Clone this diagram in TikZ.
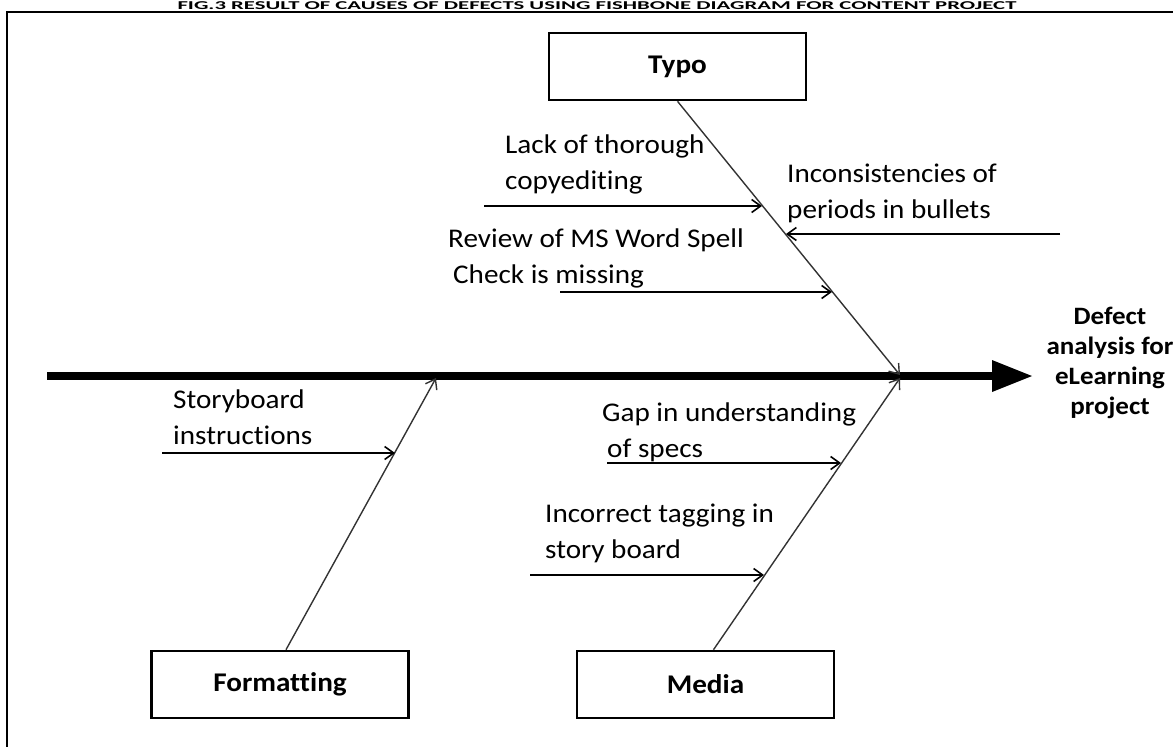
\documentclass[tikz,border=0pt]{standalone}
\usepackage{fontspec}
\setmainfont{Carlito}[FakeStretch=1.08,Ligatures=NoCommon]
\usetikzlibrary{arrows.meta,calc}
\begin{document}
\begin{tikzpicture}[x=1pt,y=-1pt,
  box/.style={draw=black, line width=2.6pt, minimum width=257pt, minimum height=67pt, inner sep=0pt, font=\fontsize{27}{32}\selectfont\bfseries},
  lab/.style={align=left, inner sep=0pt, font=\fontsize{27}{36}\selectfont, anchor=base west},
  bone/.style={draw=black!80, line width=1.4pt, -{Straight Barb[length=9pt,width=13pt]}},
  cause/.style={draw=black, line width=1.6pt, -{Straight Barb[length=9pt,width=13pt]}}]
\useasboundingbox (0,0) rectangle (1173,747);
% title
\node[font=\fontsize{12}{14}\selectfont\bfseries, anchor=base, inner sep=0pt] (title) at (597,9.5) {\scalebox{1.75}[1]{FIG.3 RESULT OF CAUSES OF DEFECTS USING FISHBONE DIAGRAM FOR CONTENT PROJECT}};
% frame
\draw[line width=2pt] (6.5,760) -- (6.5,12) -- (1180,12);
% category boxes
\node[box] (typo) at (677.5,66.5) {Typo};
\node[box] (fmt) at (280,684.5) {Formatting};
\node[box] (media) at (705.5,684.5) {Media};
% spine
\coordinate (s0) at (47,376);
\coordinate (s1) at (995,376);
\draw[line width=8pt] (s0) -- (s1);
\fill ($(s1)+(-3,-16)$) -- ($(s1)+(37,0)$) -- ($(s1)+(-3,16)$) -- cycle;
% effect
\node[font=\fontsize{25}{30}\selectfont\bfseries, align=center, anchor=base, inner sep=0pt] (effect) at (1110,414) {Defect\\analysis for\\eLearning\\project};
% bones
\coordinate (J1) at (900,375);
\coordinate (J2) at (436,378);
\coordinate (J3) at (900,378);
\draw[bone] (typo.south) -- (J1);
\draw[bone] ($(fmt.north)+(6,0)$) -- (J2);
\draw[bone] ($(media.north)+(8,0)$) -- (J3);
% causes
\coordinate (c1s) at (484,206); \coordinate (c1e) at (762,206);
\coordinate (c2s) at (1060,234); \coordinate (c2e) at (786,234);
\coordinate (c3s) at (560,292); \coordinate (c3e) at (832,292);
\coordinate (c4s) at (162,453); \coordinate (c4e) at (395,453);
\coordinate (c5s) at (607,463); \coordinate (c5e) at (841,463);
\coordinate (c6s) at (530,575); \coordinate (c6e) at (764,575);
\draw[cause] (c1s) -- (c1e);
\draw[cause] (c2s) -- (c2e);
\draw[cause] (c3s) -- (c3e);
\draw[cause] (c4s) -- (c4e);
\draw[cause] (c5s) -- (c5e);
\draw[cause] (c6s) -- (c6e);
% labels
\node[lab] (l1) at (505,189) {Lack of thorough\\copyediting};
\node[lab] (l2) at (787,218) {Inconsistencies of\\periods in bullets};
\node[lab] (l3) at (448,283) {Review of MS Word Spell\\\hspace*{5pt}Check is missing};
\node[lab] (l4) at (173,444) {Storyboard\\instructions};
\node[lab] (l5) at (602,457) {Gap in understanding\\\hspace*{5pt}of specs};
\node[lab] (l6) at (545,558) {Incorrect tagging in\\story board};
\end{tikzpicture}
\end{document}
